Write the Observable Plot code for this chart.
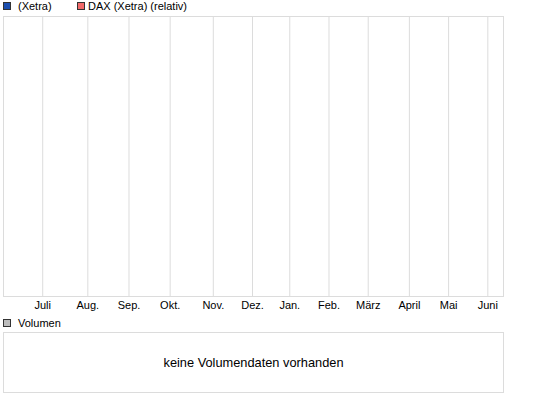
<!DOCTYPE html>
<html>
<head>
<meta charset="utf-8">
<script src="https://cdn.jsdelivr.net/npm/d3@7"></script>
<script src="https://cdn.jsdelivr.net/npm/@observablehq/plot@0.6"></script>
<style>
  html, body { margin: 0; padding: 0; background: #fff; }
  body { width: 545px; height: 401px; position: relative; overflow: hidden;
         font-family: "Liberation Sans", Arial, sans-serif; }
  .leg { position: absolute; font-size: 11px; color: #000; line-height: 13px; white-space: nowrap; }
  .sw { position: absolute; width: 6px; height: 6px; border: 1px solid #333; }
  #main, #vol { position: absolute; left: 0; }
  #main { top: 0; }
  #vol { top: 330px; }
</style>
</head>
<body>
<div id="legend"></div>
<div id="main"></div>
<div id="vol"></div>
<script>
// Series (legend) entries
const seriesNames = ["(Xetra)", "DAX (Xetra) (relativ)"];
const seriesColors = ["#1c4fb0", "#f26a6a"];
const volumeName = "Volumen";
const volumeColor = "#bdbdbd";
const noVolumeText = "keine Volumendaten vorhanden";

// X axis: trading-day index of each month start, one year window
const xDomain = [0, 255];
const monthTicks = [20, 43, 64, 85, 107, 127, 146, 166, 186, 207, 227, 247];
const monthLabels = ["Juli", "Aug.", "Sep.", "Okt.", "Nov.", "Dez.", "Jan.", "Feb.", "März", "April", "Mai", "Juni"];

// Legends (HTML, above the SVG)
const legend = document.getElementById("legend");
const legX = [3, 77];
const legTextX = [18, 88];
seriesNames.forEach((name, i) => {
  const sw = document.createElement("div");
  sw.className = "sw";
  sw.style.left = legX[i] + "px";
  sw.style.top = "2px";
  sw.style.background = seriesColors[i];
  legend.appendChild(sw);
  const t = document.createElement("div");
  t.className = "leg";
  t.style.left = legTextX[i] + "px";
  t.style.top = "0px";
  t.textContent = name;
  legend.appendChild(t);
});
{
  const sw = document.createElement("div");
  sw.className = "sw";
  sw.style.left = "3px";
  sw.style.top = "319px";
  sw.style.background = volumeColor;
  legend.appendChild(sw);
  const t = document.createElement("div");
  t.className = "leg";
  t.style.left = "18px";
  t.style.top = "317px";
  t.textContent = volumeName;
  legend.appendChild(t);
}

const grid = "#dcdcdc";

// Main price panel (no data available -> empty frame with month grid)
const main = Plot.plot({
  width: 545,
  height: 320,
  marginTop: 16,
  marginBottom: 24,
  marginLeft: 3,
  marginRight: 42,
  style: { fontFamily: "'Liberation Sans', Arial, sans-serif", fontSize: "11px", color: "#000", background: "transparent" },
  x: { domain: xDomain, type: "linear" },
  y: { domain: [0, 1], axis: null },
  marks: [
    Plot.ruleX(monthTicks, { stroke: grid, strokeWidth: 1 }),
    Plot.frame({ stroke: grid, strokeWidth: 1 }),
    Plot.axisX(monthTicks, {
      tickSize: 0,
      tickPadding: 5,
      tickFormat: (d) => monthLabels[monthTicks.indexOf(d)],
      fill: "#000",
      fontSize: 11,
      label: null
    })
  ]
});
document.getElementById("main").appendChild(main);

// Volume panel
const vol = Plot.plot({
  width: 545,
  height: 63,
  marginTop: 2,
  marginBottom: 1,
  marginLeft: 3,
  marginRight: 42,
  style: { fontFamily: "'Liberation Sans', Arial, sans-serif", background: "transparent" },
  x: { domain: [0, 1], axis: null },
  y: { domain: [0, 1], axis: null },
  marks: [
    Plot.frame({ stroke: grid, strokeWidth: 1 }),
    Plot.text([noVolumeText], { x: () => 0.5, y: () => 0.5, text: d => d, fontSize: 12.8, fill: "#000" })
  ]
});
document.getElementById("vol").appendChild(vol);
</script>
</body>
</html>
